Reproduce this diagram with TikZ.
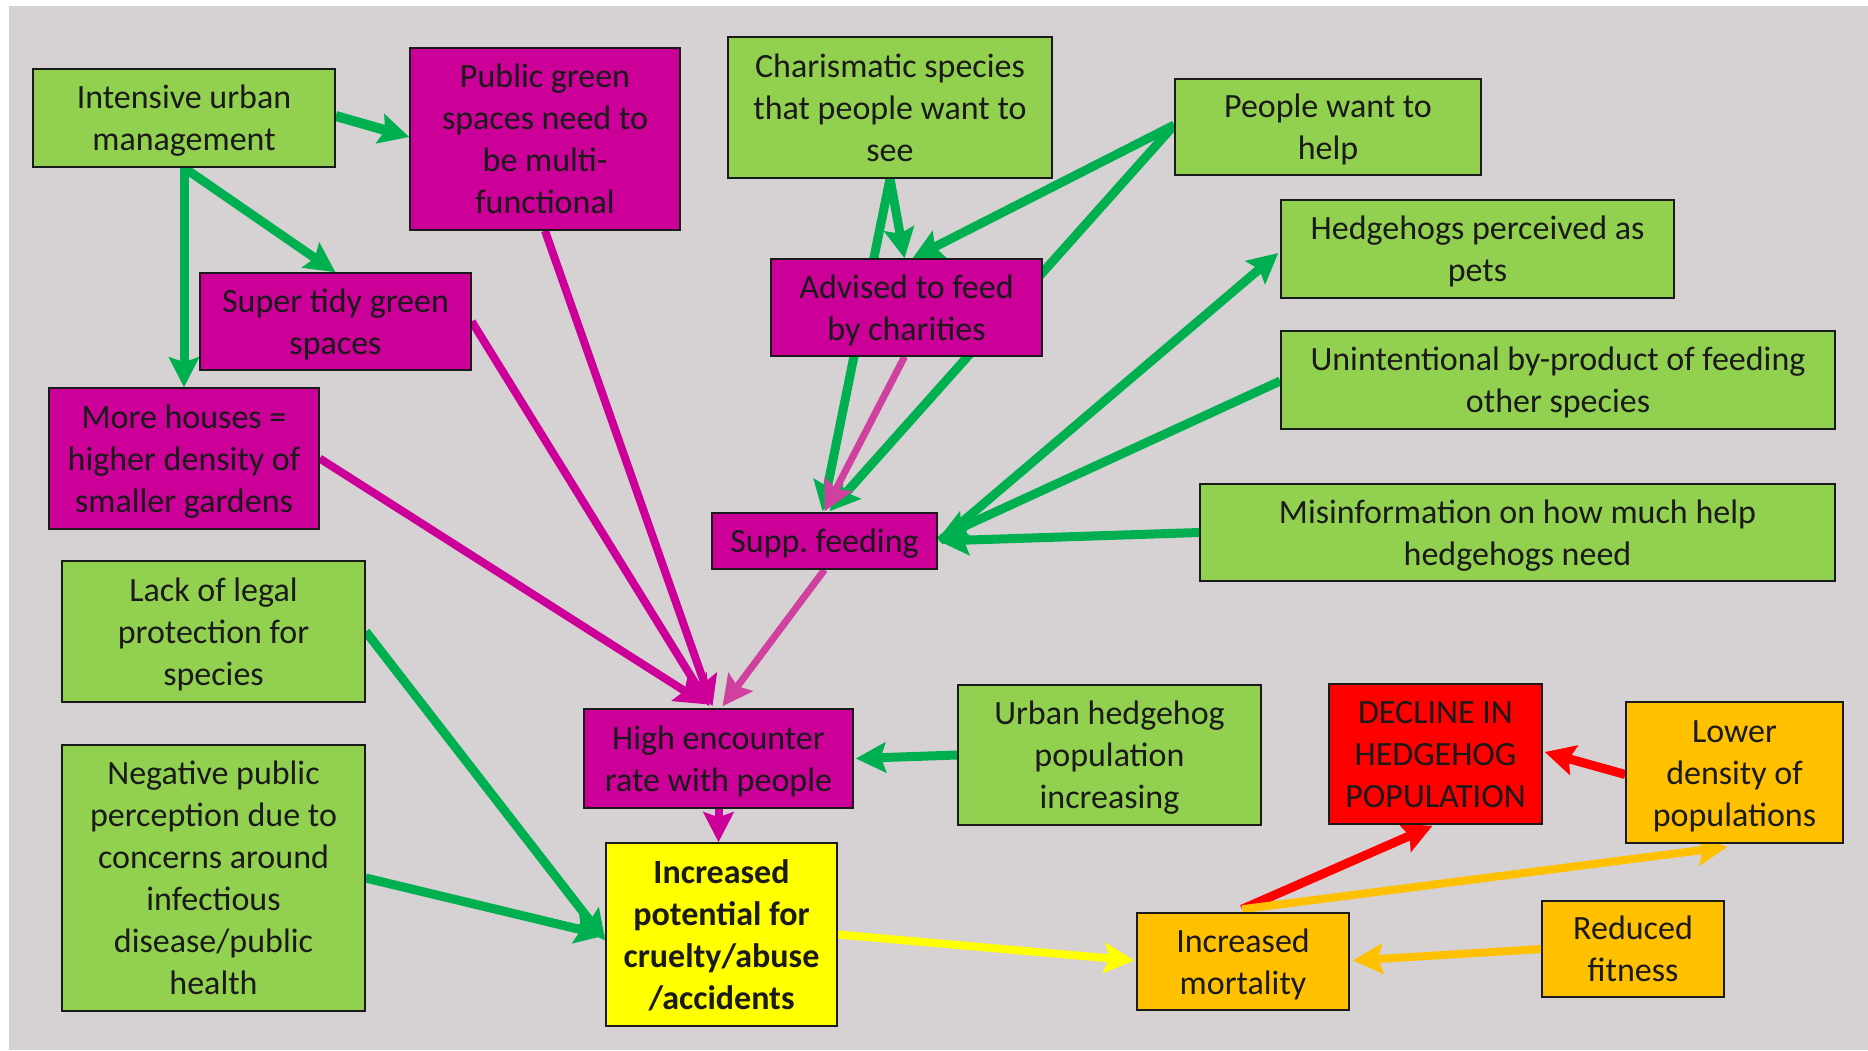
\documentclass[tikz,border=0pt]{standalone}
\usepackage{fontspec}
\setmainfont{Carlito}
\usetikzlibrary{arrows.meta,calc}
\pgfdeclarelayer{bg}
\pgfdeclarelayer{edges}
\pgfsetlayers{bg,edges,main}

\definecolor{canvas}{HTML}{D6D2D3}
\definecolor{leaf}{HTML}{92D050}
\definecolor{plum}{HTML}{CC0099}
\definecolor{pinkline}{HTML}{D0409F}
\definecolor{arrowgreen}{HTML}{00B050}
\definecolor{amber}{HTML}{FFC000}
\definecolor{alarm}{HTML}{FF0000}
\definecolor{lemon}{HTML}{FFFF00}
\definecolor{ink}{HTML}{1A1A1A}

% full ascent/descent of a text line, so every block is centred on its line boxes
\newcommand{\ls}{\rule[-9.1pt]{0pt}{41.5pt}}

\begin{document}
\frenchspacing
\begin{tikzpicture}[x=1pt,y=-1pt,
  box/.style={rectangle,draw=ink,line width=1.5pt,inner sep=0pt,align=center,
    text=ink,font=\fontsize{34}{42}\selectfont},
  greenbox/.style={box,fill=leaf},
  plumbox/.style={box,fill=plum},
  amberbox/.style={box,fill=amber},
  link/.style={line width=9pt,-{Stealth[length=30pt,width=30pt,inset=5pt]}},
  greenlink/.style={link,draw=arrowgreen,fill=arrowgreen},
  plumlink/.style={link,line width=8pt,draw=plum,fill=plum},
  pinklink/.style={link,line width=7pt,draw=pinkline,fill=pinkline},
  lemonlink/.style={link,line width=8pt,draw=lemon,fill=lemon},
  alarmlink/.style={link,draw=alarm,fill=alarm},
  amberlink/.style={link,line width=8pt,draw=amber,fill=amber}]

\useasboundingbox (0,0) rectangle (1868,1050);
\begin{pgfonlayer}{bg}
  \fill[white] (0,0) rectangle (1868,1050);
  \fill[canvas] (9,6) rectangle (1868,1050);
\end{pgfonlayer}

% ---- boxes ----
\node[greenbox,minimum width=302pt,minimum height=98pt] (intensive) at (184,118)
  {\ls Intensive urban\\management\ls};
\node[plumbox,minimum width=270pt,minimum height=182pt] (public) at (545,139)
  {\ls Public green\\spaces need to\\be multi-\\functional\ls};
\node[greenbox,minimum width=324pt,minimum height=141pt] (charis) at (890,107.5)
  {\ls Charismatic species\\that people want to\\see\ls};
\node[greenbox,minimum width=306pt,minimum height=96pt] (people) at (1328,127)
  {\ls People want to\\help\ls};
\node[plumbox,minimum width=271pt,minimum height=97pt] (tidy) at (335.5,321.5)
  {\ls Super tidy green\\spaces\ls};
\node[plumbox,minimum width=271pt,minimum height=97pt] (advised) at (906.5,307.5)
  {\ls Advised to feed\\by charities\ls};
\node[greenbox,minimum width=393pt,minimum height=98pt] (pets) at (1477.5,249)
  {\ls Hedgehogs perceived as\\pets\ls};
\node[greenbox,minimum width=554pt,minimum height=98pt] (unint) at (1558,380)
  {\ls Unintentional by-product of feeding\\other species\ls};
\node[plumbox,minimum width=270pt,minimum height=141pt] (houses) at (184,458.5)
  {\ls More houses =\\higher density of\\smaller gardens\ls};
\node[plumbox,minimum width=225pt,minimum height=56pt] (supp) at (824.5,541)
  {\ls Supp. feeding\ls};
\node[greenbox,minimum width=635pt,minimum height=97pt] (misinfo) at (1517.5,532.5)
  {\ls Misinformation on how much help\\hedgehogs need\ls};
\node[greenbox,minimum width=303pt,minimum height=141pt] (lack) at (213.5,631.5)
  {\ls Lack of legal\\protection for\\species\ls};
\node[greenbox,minimum width=303pt,minimum height=266pt] (negative) at (213.5,878)
  {\ls Negative public\\perception due to\\concerns around\\infectious\\disease/public\\health\ls};
\node[plumbox,minimum width=269pt,minimum height=99pt] (high) at (718.5,758.5)
  {\ls High encounter\\rate with people\ls};
\node[greenbox,minimum width=303pt,minimum height=140pt] (urban) at (1109.5,755)
  {\ls Urban hedgehog\\population\\increasing\ls};
\node[box,fill=alarm,minimum width=213pt,minimum height=140pt] (decline) at (1435.5,754)
  {\ls DECLINE IN\\HEDGEHOG\\POPULATION\ls};
\node[amberbox,minimum width=217pt,minimum height=141pt] (lower) at (1734.5,772.5)
  {\ls Lower\\density of\\populations\ls};
\node[box,fill=lemon,minimum width=231pt,minimum height=183pt,
  font=\fontsize{34}{42}\selectfont\bfseries] (potential) at (721.5,934.5)
  {\ls Increased\\potential for\\cruelty/abuse\\/accidents\ls};
\node[amberbox,minimum width=212pt,minimum height=97pt] (mortality) at (1243,961.5)
  {\ls Increased\\mortality\ls};
\node[amberbox,minimum width=182pt,minimum height=96pt] (reduced) at (1633,949)
  {\ls Reduced\\fitness\ls};

% ---- connectors (kept behind the boxes) ----
\begin{pgfonlayer}{edges}
  \draw[greenlink,line width=10pt] ($(intensive.east)+(0,-2)$) -- ($(public.west)+(0,-2)$);
  \draw[greenlink] (intensive.south) -- (tidy.north);
  \draw[greenlink] (intensive.south) -- (houses.north);

  \draw[plumlink] (public.south) -- ($(high.north)+(-6,-2)$);
  \draw[plumlink] (tidy.east) -- ($(high.north)+(-9,-2)$);
  \draw[plumlink] (houses.east) -- ($(high.north)+(-13,-4)$);
  \draw[pinklink] (supp.south) -- ($(high.north)+(4,-2)$);

  \draw[greenlink] (charis.south) -- ($(advised.north)+(-2,0)$);
  \draw[greenlink] (charis.south) -- ($(supp.north)+(-2,-1)$);
  \draw[greenlink] ($(people.west)+(0,-2)$) -- ($(advised.north)+(6,0)$);
  \draw[greenlink] ($(people.west)+(0,-2)$) -- ($(supp.north)+(5,-1)$);
  \draw[pinklink] ($(advised.south)+(-2,0)$) -- ($(supp.north)+(0,-1)$);

  \draw[greenlink] ($(supp.east)+(2,0)$) -- ($(pets.west)+(-2,4)$);
  \draw[greenlink] ($(unint.west)+(0,1)$) -- ($(supp.east)+(1,-3)$);
  \draw[greenlink] (misinfo.west) -- ($(supp.east)+(1,0)$);

  \draw[greenlink] (urban.west) -- ($(high.east)+(2,0)$);
  \draw[plumlink] (high.south) -- (high.south |- potential.north);

  \draw[greenlink] (lack.east) -- ($(potential.west)+(0,6)$);
  \draw[greenlink] (negative.east) -- ($(potential.west)+(0,1)$);

  \draw[lemonlink] (potential.east) -- ($(mortality.west)+(-2,-1)$);
  \draw[alarmlink] ($(mortality.north)+(-1,-3)$) -- ($(decline.south)+(-3,1)$);
  \draw[amberlink] ($(mortality.north)+(-1,-3)$) -- ($(lower.south)+(-7,3)$);
  \draw[alarmlink] ($(lower.west)+(0,2)$) -- ($(decline.east)+(2,-2)$);
  \draw[amberlink] (reduced.west) -- ($(mortality.east)+(3,-1)$);
\end{pgfonlayer}
\end{tikzpicture}
\end{document}
